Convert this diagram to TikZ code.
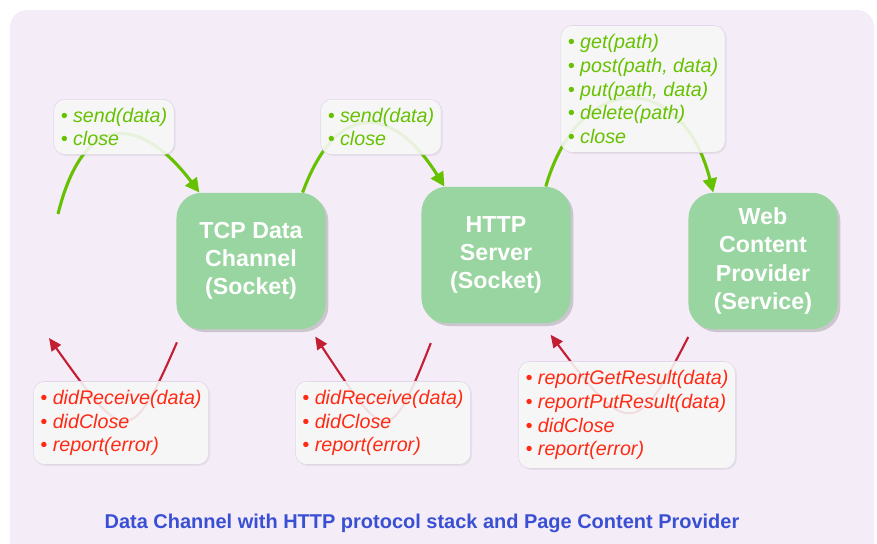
\documentclass[tikz,border=0pt]{standalone}
\usepackage{fontspec}
\setmainfont{Liberation Sans}
\usetikzlibrary{arrows.meta,shadows}

\definecolor{canvas}{HTML}{F4ECF7}
\definecolor{socketgreen}{HTML}{99D5A0}
\definecolor{callgreen}{HTML}{66C200}
\definecolor{eventred}{HTML}{FF2A14}
\definecolor{arrowred}{HTML}{C41E32}
\definecolor{titleblue}{HTML}{3A50D4}
\definecolor{notefill}{HTML}{FAFAFA}
\definecolor{noteline}{HTML}{E2D6E8}

\tikzset{
  block/.style={rounded corners=18pt, fill=socketgreen, text=white, align=center,
    minimum width=106pt, minimum height=97pt,
    font=\fontsize{16.5}{20}\selectfont\bfseries,
    drop shadow={shadow xshift=2pt, shadow yshift=-2pt, opacity=0.35}},
  note/.style={rounded corners=8pt, draw=noteline, fill=notefill, fill opacity=0.87,
    text opacity=1, align=left, inner xsep=5pt, inner ysep=6pt,
    font=\fontsize{14}{17}\selectfont\itshape,
    drop shadow={shadow xshift=1pt, shadow yshift=-1pt, opacity=0.12}},
  calls/.style={note, text=callgreen},
  events/.style={note, text=eventred},
  callarc/.style={draw=callgreen, line width=2.2pt, -{Triangle[length=10pt,width=10pt]}},
  eventarc/.style={draw=arrowred, line width=1.5pt, -{Triangle[length=9pt,width=8pt]}}
}

\begin{document}
\begin{tikzpicture}[x=0.025cm, y=-0.025cm]
  \useasboundingbox (0,0) rectangle (877,544);
  \clip (0,0) rectangle (877,544);
  \fill[canvas, rounded corners=12pt] (10,10) rectangle (874,570);

  % sockets and service
  \node[block] (tcp) at (251,261) {TCP Data\\Channel\\(Socket)};
  \node[block] (http) at (496,255) {HTTP\\Server\\(Socket)};
  \node[block] (web) at (763,261) {Web\\Content\\Provider\\(Service)};

  \coordinate (inlet) at (58,214);
  \coordinate (outlet) at (49,338);

  % calls going down the stack
  \draw[callarc] (inlet) .. controls +(27,-109) and +(-55,-73) .. (tcp.127);
  \draw[callarc] (tcp.53) .. controls +(35,-95) and +(-50,-80) .. (http.127);
  \draw[callarc] (http.54) .. controls +(35,-120) and +(-30,-120) .. (web.126);

  % events coming back up
  \draw[eventarc, shorten <=10pt] (tcp.225) .. controls +(-52,120) and +(75,105) .. (outlet);
  \draw[eventarc, shorten <=15pt, shorten >=6pt] (http.230) .. controls +(-50,127) and +(75,113) .. (tcp.311);
  \draw[eventarc, shorten <=6pt, shorten >=10pt] (web.224) .. controls +(-55,108) and +(85,114) .. (http.304);

  % method lists
  \node[calls] (tcpcalls) at (114,127) {• send(data)\\• close};
  \node[calls] (httpcalls) at (381,127) {• send(data)\\• close};
  \node[calls] (webcalls) at (643,89) {• get(path)\\• post(path, data)\\• put(path, data)\\• delete(path)\\• close};

  \node[events] (tcpevents) at (121,423) {• didReceive(data)\\• didClose\\• report(error)};
  \node[events] (httpevents) at (383,423) {• didReceive(data)\\• didClose\\• report(error)};
  \node[events] (webevents) at (627,415) {• reportGetResult(data)\\• reportPutResult(data)\\• didClose\\• report(error)};

  \node[font=\fontsize{14.2}{17}\selectfont\bfseries, text=titleblue] (caption) at (422,523)
    {Data Channel with HTTP protocol stack and Page Content Provider};
\end{tikzpicture}
\end{document}
